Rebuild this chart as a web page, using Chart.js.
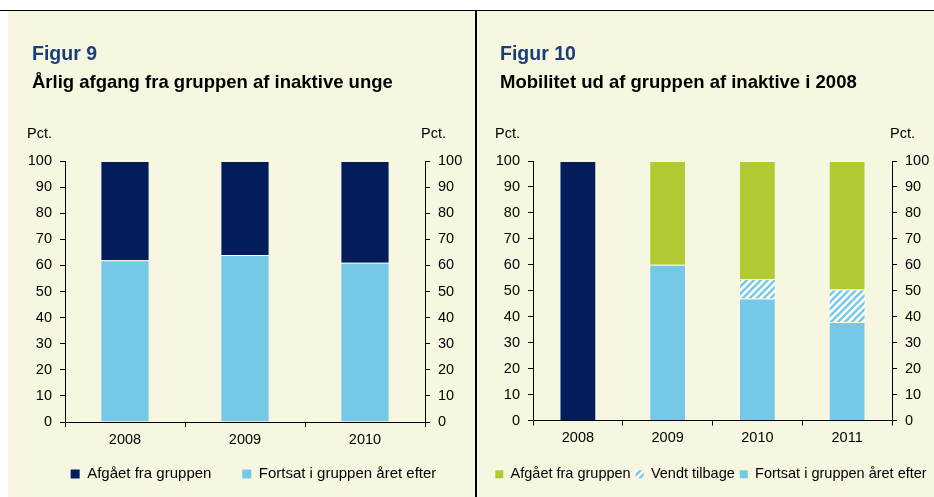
<!DOCTYPE html>
<html>
<head>
<meta charset="utf-8">
<script src="https://cdn.jsdelivr.net/npm/chart.js@4/dist/chart.umd.min.js"></script>
<style>
body { margin: 0; background: #fff; font-family: "Liberation Sans", Arial, sans-serif; }
#wrap { position: relative; width: 934px; height: 497px; overflow: hidden; }
.panel { position: absolute; top: 11px; height: 486px; background: #F7F7E1; }
.txt { position: absolute; white-space: nowrap; color: #000; }
.fig { font-weight: bold; font-size: 19.5px; line-height: 19.5px; color: #183D7B; }
.sub { font-weight: bold; font-size: 18.5px; line-height: 18.5px; }
.pct { font-size: 14.5px; line-height: 14.5px; }
canvas { position: absolute; top: 0; left: 0; }
</style>
</head>
<body>
<div id="wrap">
  <div style="position:absolute;left:0;top:10px;width:934px;height:1px;background:#000"></div>
  <div class="panel" style="left:8px;width:467px"><canvas id="fig9" width="491" height="486"></canvas></div>
  <div class="panel" style="left:477px;width:457px"><canvas id="fig10" width="468" height="486"></canvas></div>
  <div style="position:absolute;left:475px;top:10px;width:2px;height:487px;background:#000"></div>

  <div class="txt fig" style="left:32px;top:44px">Figur 9</div>
  <div class="txt sub" style="left:32px;top:72.5px">Årlig afgang fra gruppen af inaktive unge</div>
  <div class="txt pct" style="left:27px;top:126px">Pct.</div>
  <div class="txt pct" style="left:421px;top:126px">Pct.</div>

  <div class="txt fig" style="left:500px;top:44px">Figur 10</div>
  <div class="txt sub" style="left:500px;top:72.5px">Mobilitet ud af gruppen af inaktive i 2008</div>
  <div class="txt pct" style="left:495px;top:126px">Pct.</div>
  <div class="txt pct" style="left:890px;top:126px">Pct.</div>
</div>
<script>
// Figur 9
var years9 = ['2008', '2009', '2010'];
var afgaaet9 = [38, 36, 39];
var fortsat9 = [62, 64, 61];

// Figur 10
var years10 = ['2008', '2009', '2010', '2011'];
var inaktiv10 = [100, null, null, null];
var fortsat10 = [null, 60, 47, 38];
var vendt10 = [null, 0, 7.5, 12.5];
var afgaaet10 = [null, 40, 45.5, 49.5];

var navy = '#031D5C';
var lightBlue = '#76C9E6';
var green = '#B2C932';
var edge = 'rgba(255,255,255,0.3)';

Chart.defaults.font.family = "'Liberation Sans', Arial, sans-serif";
Chart.defaults.color = '#000';

var hatch = function(){
    var c = document.createElement('canvas');
    c.width = 7; c.height = 7;
    var g = c.getContext('2d');
    g.fillStyle = '#fff';
    g.fillRect(0, 0, 7, 7);
    g.strokeStyle = lightBlue;
    g.lineWidth = 2.4;
    g.beginPath();
    g.moveTo(-1, 8); g.lineTo(8, -1);
    g.moveTo(-1, 1); g.lineTo(1, -1);
    g.moveTo(6, 8); g.lineTo(8, 6);
    g.stroke();
    return g.createPattern(c, 'repeat');
}

var yAxis = function(pos, w){
    return {
        position: pos,
        stacked: pos === 'left',
        min: 0,
        max: 100,
        ticks: { stepSize: 10, padding: 8, font: { size: 14.5 }, color: '#000' },
        grid: { drawOnChartArea: false, tickLength: 5, color: '#000' },
        border: { color: '#000' },
        afterFit: function(s){ s.width = w; }
    };
}

var xAxis = function(h){
    return {
        stacked: true,
        grid: { offset: true, drawOnChartArea: false, tickLength: 5, color: '#000' },
        border: { color: '#000' },
        ticks: { font: { size: 14.5 }, color: '#000', padding: 4, maxRotation: 0 },
        afterFit: function(s){ s.height = h; }
    };
}

new Chart(document.getElementById('fig9').getContext('2d'), {
    type: 'bar',
    data: {
        labels: years9,
        datasets: [{
            label: 'Fortsat i gruppen året efter',
            backgroundColor: lightBlue,
            data: fortsat9
        }, {
            label: 'Afgået fra gruppen',
            backgroundColor: navy,
            data: afgaaet9
        }]
    },
    options: {
        responsive: false,
        animation: false,
        datasets: { bar: { barPercentage: 0.41, categoryPercentage: 1, borderWidth: 1, borderColor: edge } },
        layout: { padding: { top: 150, left: 0, right: 0, bottom: 5.5 } },
        scales: {
            x: xAxis(34.5),
            y: yAxis('left', 57),
            y2: yAxis('right', 74)
        },
        plugins: {
            legend: {
                position: 'bottom',
                reverse: true,
                labels: {
                    boxWidth: 9, boxHeight: 9, padding: 10, font: { size: 15 }, color: '#000',
                    // wider gap between the two entries
                    generateLabels: function(chart){
                        var items = Chart.defaults.plugins.legend.labels.generateLabels(chart);
                        items.forEach(function(it){
                            it.lineWidth = 0;
                            if (it.datasetIndex === 1) it.text = it.text + '     ';
                        });
                        return items;
                    }
                }
            },
            tooltip: { enabled: false }
        }
    }
});

new Chart(document.getElementById('fig10').getContext('2d'), {
    type: 'bar',
    data: {
        labels: years10,
        datasets: [{
            label: 'Fortsat i gruppen året efter',
            backgroundColor: lightBlue,
            data: fortsat10
        }, {
            label: 'Vendt tilbage',
            backgroundColor: hatch(),
            data: vendt10
        }, {
            label: 'Afgået fra gruppen',
            backgroundColor: green,
            data: afgaaet10
        }, {
            label: '',
            backgroundColor: navy,
            data: inaktiv10
        }]
    },
    options: {
        responsive: false,
        animation: false,
        datasets: { bar: { barPercentage: 0.41, categoryPercentage: 1, borderWidth: 1, borderColor: edge } },
        layout: { padding: { top: 150, left: 0, right: 0, bottom: 5.5 } },
        scales: {
            x: xAxis(41.5),
            y: yAxis('left', 56),
            y2: yAxis('right', 53)
        },
        plugins: {
            legend: {
                position: 'bottom',
                reverse: true,
                labels: {
                    boxWidth: 8, boxHeight: 8, padding: 5, font: { size: 14.5 }, color: '#000',
                    filter: function(item){ return item.text !== ''; },
                    generateLabels: function(chart){
                        var items = Chart.defaults.plugins.legend.labels.generateLabels(chart);
                        items.forEach(function(it){ it.lineWidth = 0; });
                        return items;
                    }
                }
            },
            tooltip: { enabled: false }
        }
    }
});
</script>
</body>
</html>
